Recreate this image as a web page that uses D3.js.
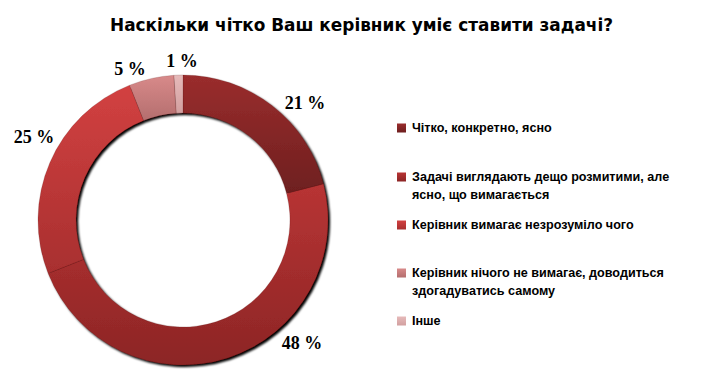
<!DOCTYPE html>
<html><head><meta charset="utf-8">
<script src="https://cdn.jsdelivr.net/npm/d3@7"></script>
<style>body{margin:0;background:#fff}</style>
</head><body><div id="chart"></div>
<script>
const categories = ["Чітко, конкретно, ясно",
  "Задачі виглядають дещо розмитими, але ясно, що вимагається",
  "Керівник вимагає незрозуміло чого",
  "Керівник нічого не вимагає, доводиться здогадуватись самому",
  "Інше"];
const legendLines = [["Чітко, конкретно, ясно"],
  ["Задачі виглядають дещо розмитими, але","ясно, що вимагається"],
  ["Керівник вимагає незрозуміло чого"],
  ["Керівник нічого не вимагає, доводиться","здогадуватись самому"],
  ["Інше"]];
const values = [21, 48, 25, 5, 1];
const labels = ["21 %", "48 %", "25 %", "5 %", "1 %"];
const colorsTop = ["#9a2d2d", "#b83434", "#d24141", "#d88a8a", "#e6baba"];
const colorsBottom = ["#6e1f1f", "#8c2525", "#a82f2f", "#b46e6e", "#d2a0a0"];
const title = "Наскільки чітко Ваш керівник уміє ставити задачі?";

const W = 717, H = 382;
const svg = d3.select("#chart").append("svg").attr("width", W).attr("height", H);
const defs = svg.append("defs");
colorsTop.forEach((c, i) => {
  const g = defs.append("linearGradient").attr("id", "g" + i)
    .attr("x1", 0).attr("y1", 0).attr("x2", 0).attr("y2", 1);
  g.append("stop").attr("offset", "0%").attr("stop-color", c);
  g.append("stop").attr("offset", "100%").attr("stop-color", colorsBottom[i]);
});
const f = defs.append("filter").attr("id", "sh").attr("x", "-10%").attr("y", "-10%").attr("width", "130%").attr("height", "130%");
f.append("feGaussianBlur").attr("in", "SourceAlpha").attr("stdDeviation", 0.8).attr("result", "b");
f.append("feOffset").attr("in", "b").attr("dx", 2).attr("dy", 2).attr("result", "o");
const fm = f.append("feMerge");
fm.append("feMergeNode").attr("in", "o");
fm.append("feMergeNode").attr("in", "SourceGraphic");

svg.append("text").attr("x", 110).attr("y", 31)
  .attr("font-family", "DejaVu Sans, Verdana, sans-serif").attr("font-weight", "bold")
  .attr("font-size", 18).attr("textLength", 503).attr("lengthAdjust", "spacingAndGlyphs")
  .attr("fill", "#000").text(title);

const cx = 183, cy = 220, rOuter = 145, rInner = 107;
const pie = d3.pie().sort(null).value(d => d)(values);
const arc = d3.arc().innerRadius(rInner).outerRadius(rOuter);
const gPie = svg.append("g").attr("transform", `translate(${cx},${cy})`);
const ring = gPie.append("g").attr("filter", "url(#sh)");
ring.selectAll("path").data(pie).join("path")
  .attr("d", arc).attr("fill", (d, i) => `url(#g${i})`)
  .attr("stroke", "rgba(80,20,20,0.35)").attr("stroke-width", 0.5);

const labelPos = [[305, 103], [302, 343], [34, 137], [130, 69], [182, 61]];
svg.append("g").selectAll("text").data(pie).join("text")
  .attr("x", (d, i) => labelPos[i][0]).attr("y", (d, i) => labelPos[i][1])
  .attr("text-anchor", "middle").attr("dominant-baseline", "central")
  .attr("font-family", "Liberation Serif, Times New Roman, serif").attr("font-weight", "bold")
  .attr("font-size", 18).attr("fill", "#000")
  .text((d, i) => labels[i]);

const rowY = [128, 177, 225, 273, 321];
const lg = svg.append("g");
categories.forEach((c, i) => {
  lg.append("rect").attr("x", 397).attr("y", rowY[i] - 4.5).attr("width", 9).attr("height", 9)
    .attr("fill", `url(#g${i})`);
  legendLines[i].forEach((ln, j) => {
    lg.append("text").attr("x", 412).attr("y", rowY[i] + j * 17.5)
      .attr("dominant-baseline", "central")
      .attr("font-family", "Liberation Sans, Arial, sans-serif").attr("font-weight", "bold")
      .attr("font-size", 12.6).attr("fill", "#000").text(ln);
  });
});
</script></body></html>
